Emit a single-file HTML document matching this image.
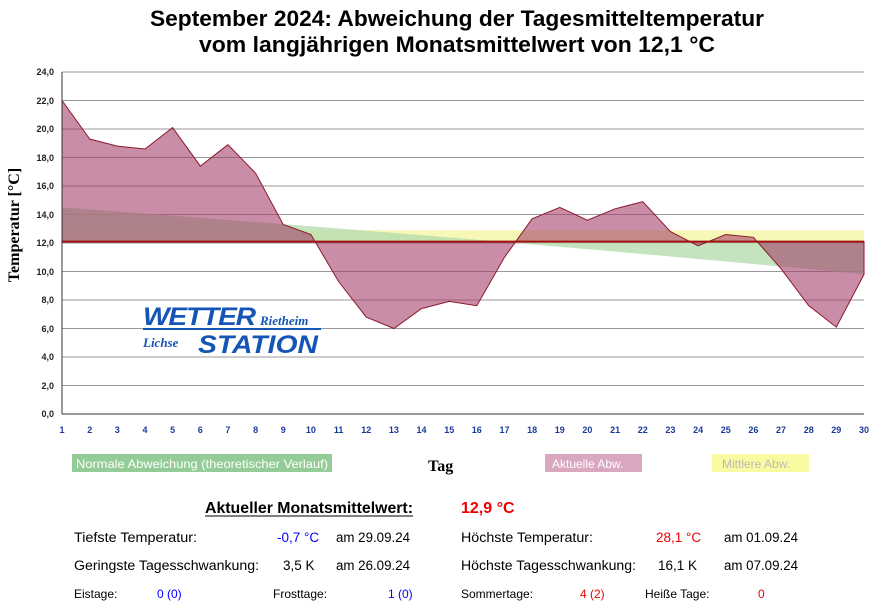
<!DOCTYPE html><html><head><style>body{margin:0;background:#fff;width:875px;height:605px;overflow:hidden;font-family:"Liberation Sans",Arial,sans-serif}</style></head><body>
<svg width="875" height="605" xmlns="http://www.w3.org/2000/svg" font-family="Liberation Sans, Arial, sans-serif">
<text x="457" y="26" font-size="22" font-weight="bold" text-anchor="middle" textLength="614" lengthAdjust="spacingAndGlyphs">September 2024: Abweichung der Tagesmitteltemperatur</text>
<text x="457" y="52" font-size="22" font-weight="bold" text-anchor="middle" textLength="516" lengthAdjust="spacingAndGlyphs">vom langjährigen Monatsmittelwert von 12,1 °C</text>
<g stroke="#999" stroke-width="1">
<line x1="62" x2="864" y1="72" y2="72"/><line x1="62" x2="864" y1="100.5" y2="100.5"/><line x1="62" x2="864" y1="129" y2="129"/><line x1="62" x2="864" y1="157.5" y2="157.5"/><line x1="62" x2="864" y1="186" y2="186"/><line x1="62" x2="864" y1="214.5" y2="214.5"/><line x1="62" x2="864" y1="243" y2="243"/><line x1="62" x2="864" y1="271.5" y2="271.5"/><line x1="62" x2="864" y1="300" y2="300"/><line x1="62" x2="864" y1="328.5" y2="328.5"/><line x1="62" x2="864" y1="357" y2="357"/><line x1="62" x2="864" y1="385.5" y2="385.5"/>
</g>
<rect x="62" y="230.2" width="802" height="11.4" fill="#f7f7b8"/>
<path d="M62 207.4 Q300 225 480 240 T864 274.35 L864 241.6 L62 241.6Z" fill="#b5dcae" opacity="0.8"/>
<polygon fill="rgba(160,55,100,0.57)" stroke="#8b1a2a" stroke-width="1" points="62,241.6 62,100.5 89.7,139 117.3,146.1 145,149 172.6,127.6 200.3,166.1 227.9,144.7 255.6,173.2 283.2,224.5 310.9,234.5 338.6,281.5 366.2,317.1 393.9,328.5 421.5,308.6 449.2,301.4 476.8,305.7 504.5,257.25 532.1,218.8 559.8,207.4 587.4,220.2 615.1,208.8 642.8,201.7 670.4,231.6 698.1,245.85 725.7,234.5 753.4,237.3 781,268.65 808.7,305.7 836.3,327.1 864,274.35 864,241.6"/>
<line x1="62" x2="864" y1="241.6" y2="241.6" stroke="#a01010" stroke-width="2"/>
<line x1="62" x2="864" y1="414" y2="414" stroke="#333"/>
<line x1="62" x2="62" y1="72" y2="414" stroke="#333"/>
<g font-size="9" font-weight="bold" fill="#222" text-anchor="end">
<text x="54" y="75">24,0</text><text x="54" y="104">22,0</text><text x="54" y="132">20,0</text><text x="54" y="161">18,0</text><text x="54" y="189">16,0</text><text x="54" y="218">14,0</text><text x="54" y="246">12,0</text><text x="54" y="275">10,0</text><text x="54" y="303">8,0</text><text x="54" y="332">6,0</text><text x="54" y="360">4,0</text><text x="54" y="389">2,0</text><text x="54" y="417">0,0</text>
</g>
<text transform="translate(19,225) rotate(-90)" font-family="Liberation Serif, serif" font-size="16" font-weight="bold" text-anchor="middle">Temperatur [°C]</text>
<g font-style="italic" font-weight="bold" fill="#1455b5">
<text x="143" y="325" font-size="25" letter-spacing="-1" textLength="112" lengthAdjust="spacingAndGlyphs">WETTER</text>
<text x="260" y="325" font-size="13" font-family="Liberation Serif, serif">Rietheim</text>
<rect x="143" y="328" width="178" height="2"/>
<text x="143" y="347" font-size="13" font-family="Liberation Serif, serif">Lichse</text>
<text x="198" y="353" font-size="25" textLength="120" lengthAdjust="spacingAndGlyphs">STATION</text>
</g>
<rect x="72" y="454" width="260" height="18" fill="#93cc96"/><text x="76" y="468" font-size="12" fill="#fff" textLength="252" lengthAdjust="spacingAndGlyphs">Normale Abweichung (theoretischer Verlauf)</text>
<text x="428" y="471" font-family="Liberation Serif, serif" font-size="16" font-weight="bold">Tag</text>
<rect x="545" y="454" width="97" height="18" fill="#d9a8c0"/><text x="552" y="468" font-size="12" fill="#fff">Aktuelle Abw.</text>
<rect x="712" y="454" width="97" height="18" fill="#fafaa0"/><text x="722" y="468" font-size="12" fill="#bbb">Mittlere Abw.</text>
<text x="205" y="513" font-size="16" font-weight="bold" textLength="208" lengthAdjust="spacingAndGlyphs">Aktueller Monatsmittelwert:</text>
<line x1="205" x2="413" y1="516" y2="516" stroke="#000"/>
<text x="461" y="513" font-size="16" font-weight="bold" fill="#e00">12,9 °C</text>
<g font-size="13.5">
<text x="74" y="542" textLength="123" lengthAdjust="spacingAndGlyphs">Tiefste Temperatur:</text><text x="277" y="542" fill="#00f">-0,7 °C</text><text x="336" y="542" textLength="74" lengthAdjust="spacingAndGlyphs">am 29.09.24</text>
<text x="461" y="542" textLength="132" lengthAdjust="spacingAndGlyphs">Höchste Temperatur:</text><text x="656" y="542" fill="#e00">28,1 °C</text><text x="724" y="542" textLength="74" lengthAdjust="spacingAndGlyphs">am 01.09.24</text>
<text x="74" y="570" textLength="185" lengthAdjust="spacingAndGlyphs">Geringste Tagesschwankung:</text><text x="283" y="570">3,5 K</text><text x="336" y="570" textLength="74" lengthAdjust="spacingAndGlyphs">am 26.09.24</text>
<text x="461" y="570" textLength="175" lengthAdjust="spacingAndGlyphs">Höchste Tagesschwankung:</text><text x="658" y="570">16,1 K</text><text x="724" y="570" textLength="74" lengthAdjust="spacingAndGlyphs">am 07.09.24</text>
</g>
<g font-size="12">
<text x="74" y="598">Eistage:</text><text x="157" y="598" fill="#00f">0 (0)</text>
<text x="273" y="598">Frosttage:</text><text x="388" y="598" fill="#00f">1 (0)</text>
<text x="461" y="598">Sommertage:</text><text x="580" y="598" fill="#e00">4 (2)</text>
<text x="645" y="598">Heiße Tage:</text><text x="758" y="598" fill="#e00">0</text>
</g>
<g font-size="9" font-weight="bold" fill="#1a3a9a" text-anchor="middle">
<text x="62" y="433">1</text><text x="89.7" y="433">2</text><text x="117.3" y="433">3</text><text x="145" y="433">4</text><text x="172.6" y="433">5</text><text x="200.3" y="433">6</text><text x="227.9" y="433">7</text><text x="255.6" y="433">8</text><text x="283.2" y="433">9</text><text x="310.9" y="433">10</text><text x="338.6" y="433">11</text><text x="366.2" y="433">12</text><text x="393.9" y="433">13</text><text x="421.5" y="433">14</text><text x="449.2" y="433">15</text><text x="476.8" y="433">16</text><text x="504.5" y="433">17</text><text x="532.1" y="433">18</text><text x="559.8" y="433">19</text><text x="587.4" y="433">20</text><text x="615.1" y="433">21</text><text x="642.8" y="433">22</text><text x="670.4" y="433">23</text><text x="698.1" y="433">24</text><text x="725.7" y="433">25</text><text x="753.4" y="433">26</text><text x="781" y="433">27</text><text x="808.7" y="433">28</text><text x="836.3" y="433">29</text><text x="864" y="433">30</text>
</g>
</svg>
</body></html>
